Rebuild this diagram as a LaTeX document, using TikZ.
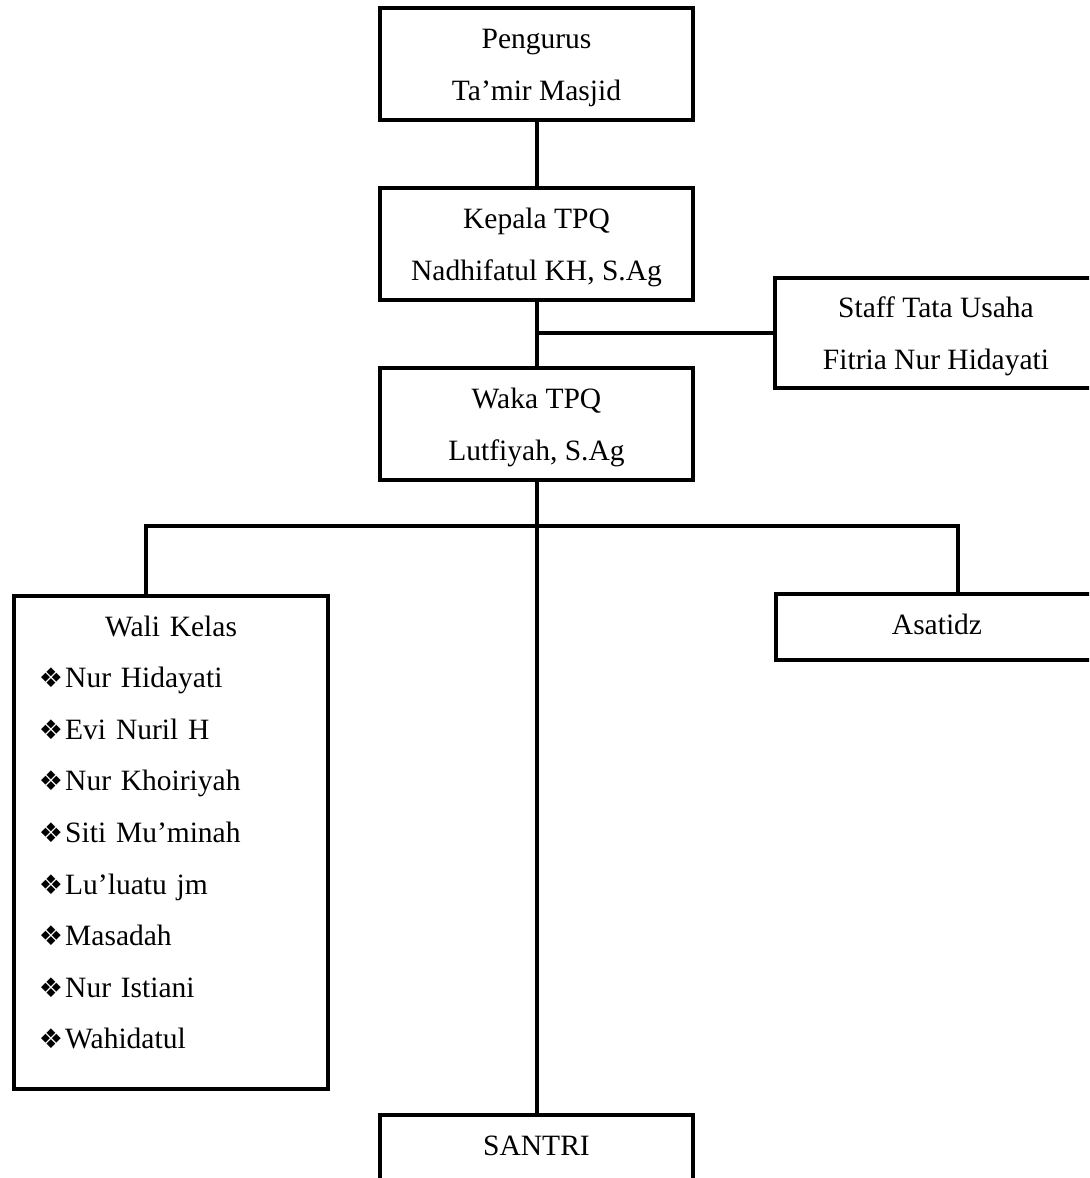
\documentclass[tikz,border=0pt]{standalone}
\usepackage{fontspec}
\setmainfont{Liberation Serif}
\newfontfamily\symbfont{DejaVu Sans}
\newcommand\wbul{{\symbfont\fontsize{13.5}{13}\selectfont ❖}\hspace{1pt}}
\tikzset{
  orgbox/.style={draw, line width=2pt, rectangle, inner sep=0pt,
    font=\fontsize{14.75}{26}\selectfont, align=center,
    minimum width=156.5pt, minimum height=56pt,
    text height=38pt, text depth=2pt},
  onebox/.style={orgbox, text height=12pt, text depth=28pt},
  conn/.style={line width=2pt},
}
\begin{document}
\begin{tikzpicture}[x=0.5pt,y=-0.5pt]
\useasboundingbox (0,0) rectangle (1089,1178);
\clip (0,0) rectangle (1089,1178);
\node[orgbox] (top) at (536.5,64) {Pengurus\\Ta’mir Masjid};
\node[orgbox] (kepala) at (536.5,244) {Kepala TPQ\\Nadhifatul KH, S.Ag};
\node[orgbox] (waka) at (536.5,424) {Waka TPQ\\Lutfiyah, S.Ag};
\node[orgbox, minimum width=161pt, minimum height=55pt] (staff) at (936,333) {Staff Tata Usaha\\Fitria Nur Hidayati};
\node[onebox, minimum width=161pt, minimum height=33pt, text depth=5pt] (asatidz) at (937,627) {Asatidz};
\node[onebox, anchor=north] (santri) at (536.5,1113) {SANTRI};
\node[orgbox, anchor=north west, align=left, minimum width=157pt, minimum height=246.5pt,
  inner xsep=12.5pt, text width=132pt, text height=12pt, text depth=218.4pt,
  font=\fontsize{14.75}{25.8}\selectfont] (wali) at (12,594)
  {\makebox[\hsize]{Wali Kelas}\\
   \wbul Nur Hidayati\\
   \wbul Evi Nuril H\\
   \wbul Nur Khoiriyah\\
   \wbul Siti Mu’minah\\
   \wbul Lu’luatu jm\\
   \wbul Masadah\\
   \wbul Nur Istiani\\
   \wbul Wahidatul};
\coordinate (bl) at (146,526);
\coordinate (brr) at (958,526);
\draw[conn] (top.south) -- (kepala.north);
\draw[conn] (kepala.south) -- (waka.north);
\draw[conn] (staff.west) -- (staff.west -| kepala.south);
\draw[conn] (waka.south) -- (santri.north);
\draw[conn] (bl |- wali.north) -- (bl) -- (brr) -- (brr |- asatidz.north);
\end{tikzpicture}
\end{document}
